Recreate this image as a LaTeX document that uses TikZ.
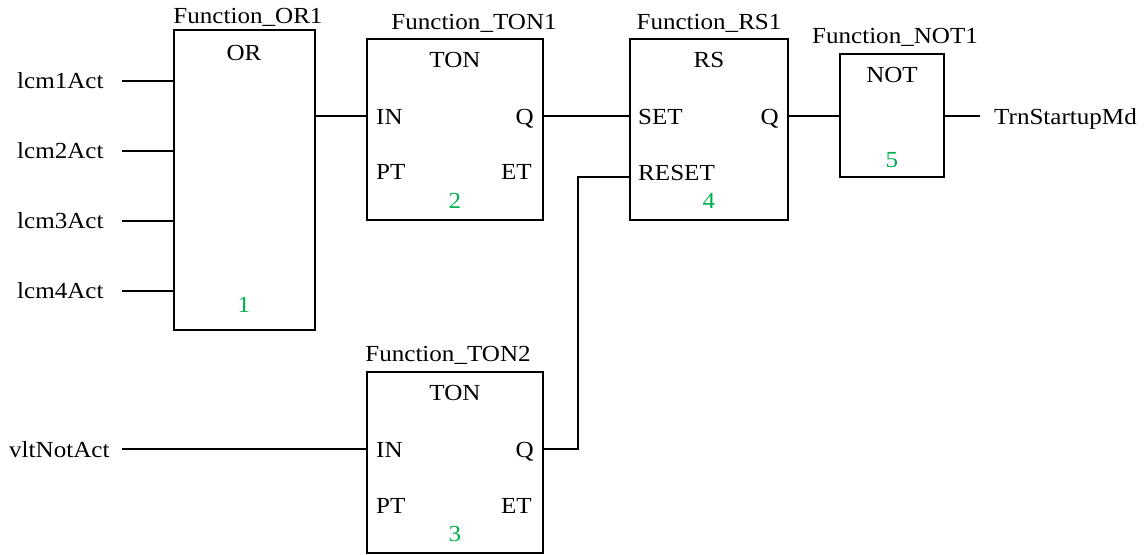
\documentclass[tikz,border=0pt]{standalone}
\usepackage{fontspec}
\setmainfont[FakeStretch=1.09]{Liberation Serif}
\definecolor{numgreen}{RGB}{0,176,80}
\tikzset{
    x=1pt, y=-1pt,
    fblock/.style={draw, minimum width=#1, inner sep=0pt, outer sep=0pt, anchor=north west, line width=1.6pt},
    pinlabel/.style={font=\fontsize{23}{26}\selectfont, inner sep=0pt, text depth=0pt},
    numlabel/.style={font=\fontsize{23}{26}\selectfont, text=numgreen, inner sep=0pt},
    wire/.style={line width=1.4pt}
}
\begin{document}
\begin{tikzpicture}
    \useasboundingbox (0, 0) rectangle (1147, 554);

    % blocks
    \node[fblock=141pt, minimum height=300pt] (or) at (174, 30) {};
    \node[fblock=176pt, minimum height=181pt] (tonA) at (367, 39) {};
    \node[fblock=158pt, minimum height=181pt] (rs) at (630, 39) {};
    \node[fblock=104pt, minimum height=123pt] (not) at (840, 54) {};
    \node[fblock=176pt, minimum height=181pt] (tonB) at (367, 372) {};

    % block names
    \node[pinlabel] (orName) at (248, 16) {Function\_OR1};
    \node[pinlabel] (tonAName) at (474, 22) {Function\_TON1};
    \node[pinlabel] (rsName) at (709, 22) {Function\_RS1};
    \node[pinlabel] (notName) at (895, 36) {Function\_NOT1};
    \node[pinlabel] (tonBName) at (448, 354) {Function\_TON2};

    % block types
    \node[pinlabel] (orType) at (244, 53) {OR};
    \node[pinlabel] (tonAType) at (455, 60) {TON};
    \node[pinlabel] (rsType) at (709, 60) {RS};
    \node[pinlabel] (notType) at (892, 75) {NOT};
    \node[pinlabel] (tonBType) at (455, 393) {TON};

    % execution order
    \node[numlabel] (orNum) at (244, 305) {1};
    \node[numlabel] (tonANum) at (455, 201) {2};
    \node[numlabel] (tonBNum) at (455, 534) {3};
    \node[numlabel] (rsNum) at (709, 201) {4};
    \node[numlabel] (notNum) at (892, 160) {5};

    % pins
    \node[pinlabel, anchor=west] (tonAIn) at (376, 117) {IN};
    \node[pinlabel, anchor=west] (tonAPt) at (376, 172) {PT};
    \node[pinlabel, anchor=east] (tonAQ) at (534, 117) {Q};
    \node[pinlabel, anchor=east] (tonAEt) at (532, 172) {ET};
    \node[pinlabel, anchor=west] (tonBIn) at (376, 450) {IN};
    \node[pinlabel, anchor=west] (tonBPt) at (376, 506) {PT};
    \node[pinlabel, anchor=east] (tonBQ) at (534, 450) {Q};
    \node[pinlabel, anchor=east] (tonBEt) at (532, 506) {ET};
    \node[pinlabel, anchor=west] (rsSet) at (638, 117) {SET};
    \node[pinlabel, anchor=west] (rsReset) at (638, 173) {RESET};
    \node[pinlabel, anchor=east] (rsQ) at (779, 117) {Q};

    % signals
    \foreach \i/\y in {1/81, 2/151, 3/221, 4/291} {
        \node[pinlabel, anchor=west] (lcm\i) at (17, \y) {lcm\i Act};
        \coordinate (lcmEnd\i) at (122, \y);
        \coordinate (orIn\i) at (174, \y);
        \draw[wire] (lcmEnd\i) -- (orIn\i);
    }
    \node[pinlabel, anchor=west] (vlt) at (9, 450) {vltNotAct};
    \node[pinlabel, anchor=west] (trn) at (994, 117) {TrnStartupMd};

    % wires
    \coordinate (vltEnd) at (122, 449);
    \coordinate (tonBInPt) at (367, 449);
    \coordinate (orOut) at (315, 116);
    \coordinate (tonAInPt) at (367, 116);
    \coordinate (tonAOut) at (543, 116);
    \coordinate (rsSetPt) at (630, 116);
    \coordinate (tonBOut) at (543, 449);
    \coordinate (rsResetPt) at (630, 177);
    \coordinate (rsOut) at (788, 116);
    \coordinate (notIn) at (840, 116);
    \coordinate (notOut) at (944, 116);
    \coordinate (trnEnd) at (980, 116);
    \draw[wire] (vltEnd) -- (tonBInPt);
    \draw[wire] (orOut) -- (tonAInPt);
    \draw[wire] (tonAOut) -- (rsSetPt);
    \draw[wire] (tonBOut) -- (578, 449) -- (578, 177) -- (rsResetPt);
    \draw[wire] (rsOut) -- (notIn);
    \draw[wire] (notOut) -- (trnEnd);
\end{tikzpicture}
\end{document}
